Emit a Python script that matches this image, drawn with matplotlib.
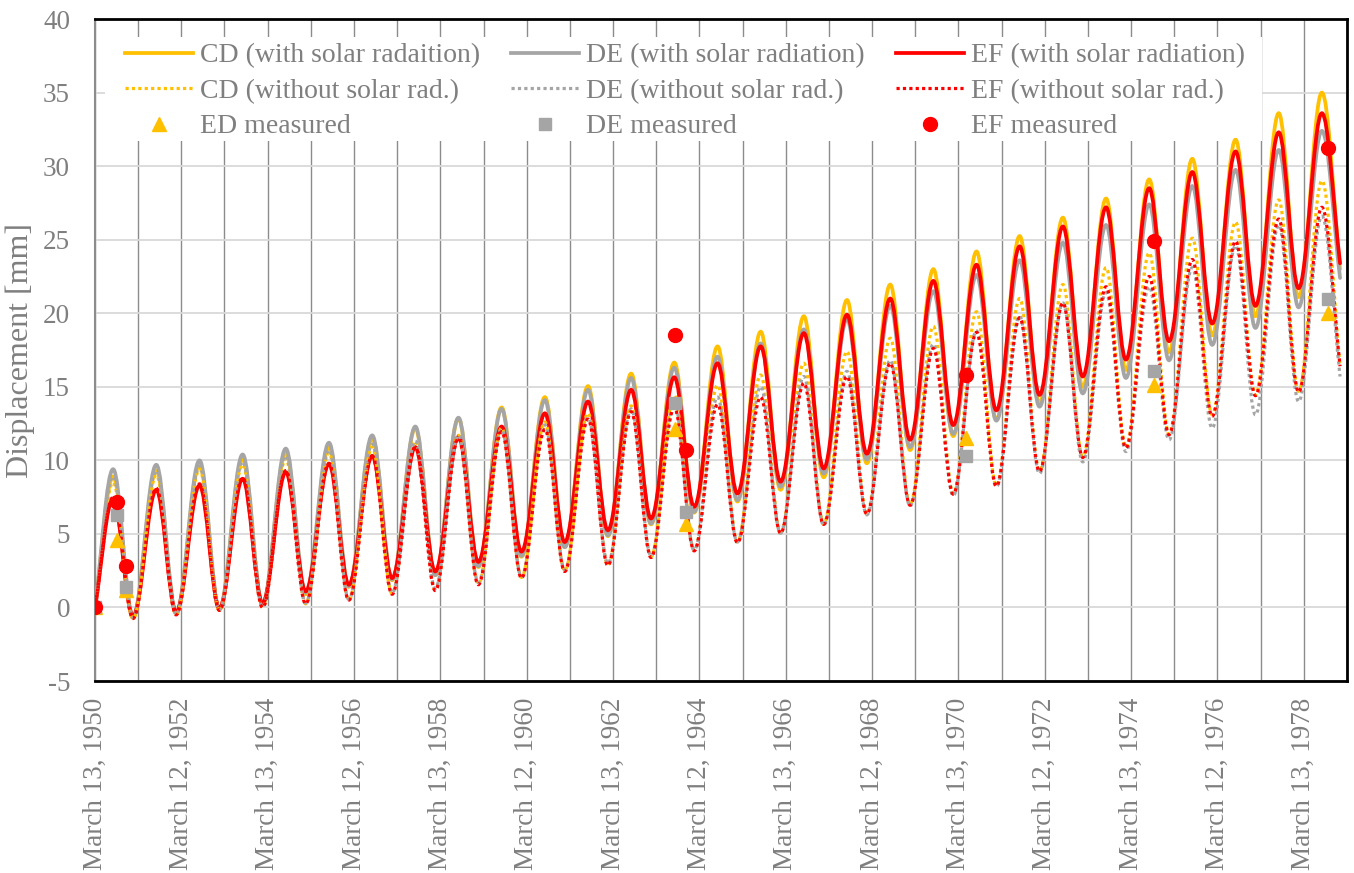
import datetime as dt

import numpy as np
import matplotlib
matplotlib.use("Agg")
import matplotlib.pyplot as plt
import matplotlib.dates as mdates
from matplotlib.path import Path
from matplotlib.patches import PathPatch, Rectangle
from matplotlib.lines import Line2D

plt.rcParams["font.family"] = ["Liberation Serif", "DejaVu Serif"]

# ---- simulated displacement: seasonal extremes (summer peaks / winter troughs) ----
START = "1950-03-13"
END = "1979-01-14"
PEAK_DATES = [f"{y}-08-13" for y in range(1950, 1979)]
TROUGH_DATES = [f"{y}-01-28" for y in range(1951, 1979)]

CD_SOLAR_PEAKS = [8.9, 9.3, 9.7, 10.1, 10.5, 10.9, 11.5, 12.2, 12.85, 13.6, 14.3, 15.05, 15.9, 16.65,
                  17.75, 18.75, 19.8, 20.9, 21.95, 23.0, 24.2, 25.25, 26.5, 27.8, 29.1, 30.5, 31.8,
                  33.6, 35.0]
CD_SOLAR_TROUGHS = [-0.7, -0.4, -0.15, 0.2, 0.9, 1.4, 1.85, 2.2, 2.75, 3.45, 4.1, 4.85, 5.65, 6.45,
                    7.2, 8.0, 8.85, 9.8, 10.7, 11.65, 12.75, 13.9, 15.0, 16.15, 17.35, 18.5, 19.8, 21.1]
CD_SOLAR_END = 23.0

DE_SOLAR_PEAKS = [9.4, 9.7, 10.0, 10.4, 10.8, 11.2, 11.7, 12.3, 12.9, 13.5, 14.1, 14.8, 15.6, 16.3,
                  17.05, 17.95, 18.9, 19.6, 20.5, 21.5, 22.6, 23.6, 24.8, 26.0, 27.4, 28.65, 29.75,
                  31.1, 32.4]
DE_SOLAR_TROUGHS = [-0.6, -0.35, -0.1, 0.25, 1.0, 1.45, 1.9, 2.2, 2.8, 3.5, 4.1, 4.9, 5.7, 6.5,
                    7.3, 8.2, 9.1, 10.05, 10.9, 11.8, 12.7, 13.65, 14.55, 15.6, 16.8, 17.85, 19.0, 20.4]
DE_SOLAR_END = 22.4

EF_SOLAR_PEAKS = [7.4, 8.0, 8.3, 8.75, 9.2, 9.75, 10.3, 10.9, 11.6, 12.3, 13.2, 14.0, 14.8, 15.65,
                  16.6, 17.75, 18.65, 19.9, 21.0, 22.2, 23.3, 24.55, 25.9, 27.2, 28.5, 29.6, 31.0,
                  32.3, 33.6]
EF_SOLAR_TROUGHS = [-0.6, -0.3, -0.05, 0.3, 1.1, 1.55, 2.0, 2.45, 3.1, 3.8, 4.45, 5.25, 6.05, 6.85,
                    7.75, 8.55, 9.45, 10.45, 11.4, 12.4, 13.4, 14.45, 15.7, 16.85, 18.1, 19.3, 20.5, 21.7]
EF_SOLAR_END = 23.4

CD_NOSOLAR_PEAKS = [8.5, 9.0, 9.4, 9.7, 10.1, 10.5, 10.9, 11.3, 11.7, 12.2, 12.6, 13.2, 13.7, 14.4,
                    15.1, 15.8, 16.6, 17.4, 18.3, 19.1, 20.1, 21.0, 21.95, 23.1, 24.1, 25.1, 26.2,
                    27.7, 29.0]
CD_NOSOLAR_TROUGHS = [-0.75, -0.5, -0.2, 0.0, 0.25, 0.5, 0.95, 1.2, 1.6, 2.05, 2.5, 2.9, 3.45, 3.9,
                      4.45, 5.1, 5.7, 6.4, 7.0, 7.75, 8.3, 9.3, 10.25, 10.9, 11.8, 13.1, 14.45, 14.7]
CD_NOSOLAR_END = 16.4

DE_NOSOLAR_PEAKS = [8.9, 9.3, 9.6, 9.9, 10.3, 10.7, 11.1, 11.3, 11.7, 12.1, 12.4, 12.9, 13.5, 13.9,
                    14.3, 15.0, 15.7, 16.05, 16.8, 17.9, 18.8, 19.8, 20.7, 21.4, 21.8, 23.1, 24.6,
                    26.0, 26.6]
DE_NOSOLAR_TROUGHS = [-0.7, -0.45, -0.15, 0.05, 0.3, 0.55, 1.0, 1.3, 1.7, 2.1, 2.55, 3.0, 3.5, 3.9,
                      4.45, 5.05, 5.6, 6.3, 6.9, 7.6, 8.2, 9.1, 9.9, 10.6, 11.4, 12.2, 13.1, 14.0]
DE_NOSOLAR_END = 15.7

EF_NOSOLAR_PEAKS = [7.5, 8.1, 8.4, 8.85, 9.3, 9.8, 10.3, 10.9, 11.5, 11.95, 12.1, 12.8, 13.3, 13.6,
                    13.8, 14.3, 15.25, 15.7, 16.6, 17.6, 18.7, 19.7, 20.7, 21.8, 22.5, 23.65, 24.9,
                    26.4, 27.2]
EF_NOSOLAR_TROUGHS = [-0.75, -0.5, -0.2, 0.0, 0.25, 0.5, 0.9, 1.15, 1.55, 2.0, 2.45, 2.85, 3.4, 3.85,
                      4.4, 5.05, 5.65, 6.35, 6.95, 7.7, 8.25, 9.25, 10.2, 10.85, 11.75, 13.0, 14.4, 14.65]
EF_NOSOLAR_END = 16.4

# ---- field measurements ----
MEAS_DATES = ["1950-03-13", "1950-09-18", "1950-11-30", "1963-08-21", "1963-11-24",
              "1970-05-18", "1974-09-26", "1978-10-07"]
ED_MEASURED = [0.0, 4.6, 1.2, 12.1, 5.7, 11.5, 15.1, 20.0]
DE_MEASURED = [0.0, 6.3, 1.4, 13.9, 6.5, 10.3, 16.1, 21.0]
EF_MEASURED = [0.0, 7.2, 2.8, 18.5, 10.7, 15.8, 24.9, 31.2]

TICK_LABELS = ["March 13, 1950", "March 12, 1952", "March 13, 1954", "March 12, 1956",
               "March 13, 1958", "March 12, 1960", "March 13, 1962", "March 12, 1964",
               "March 13, 1966", "March 12, 1968", "March 13, 1970", "March 12, 1972",
               "March 13, 1974", "March 12, 1976", "March 13, 1978"]

YELLOW = "#FFC000"
GREY = "#A5A5A5"
RED = "#FF0000"
TXT = "#7F7F7F"
FS = 19.5
LEG_FS = 20


def extremes(peaks, troughs, end):
    dates = [START]
    vals = [0.0]
    for i, p in enumerate(peaks):
        dates.append(PEAK_DATES[i])
        vals.append(p)
        if i < len(troughs):
            dates.append(TROUGH_DATES[i])
            vals.append(troughs[i])
    dates.append(END)
    vals.append(end)
    return mdates.datestr2num(dates), np.array(vals)


def smooth_path(x, y, k=0.364):
    # cubic segments with flat tangents at each peak/trough
    verts = [(x[0], y[0])]
    codes = [Path.MOVETO]
    n = len(x)
    for i in range(n - 1):
        dx = x[i + 1] - x[i]
        dy = y[i + 1] - y[i]
        c1 = (x[i] + dx * k, y[i] + dy * k) if i == 0 else (x[i] + dx * k, y[i])
        c2 = (x[i + 1] - dx * k, y[i + 1] - dy * k) if i == n - 2 else (x[i + 1] - dx * k, y[i + 1])
        verts += [c1, c2, (x[i + 1], y[i + 1])]
        codes += [Path.CURVE4] * 3
    return Path(verts, codes)


fig = plt.figure(figsize=(13.54, 8.73), dpi=100)
ax = fig.add_axes([0.0702, 0.2199, 0.9246, 0.7583])

SOLID = dict(lw=2.7, fill=False, capstyle="round", joinstyle="round")
DOTTED = dict(lw=2.3, fill=False, linestyle=(0, (1, 1)), capstyle="butt")

series = [
    (CD_SOLAR_PEAKS, CD_SOLAR_TROUGHS, CD_SOLAR_END, YELLOW, SOLID, 3.0),
    (DE_SOLAR_PEAKS, DE_SOLAR_TROUGHS, DE_SOLAR_END, GREY, SOLID, 3.1),
    (EF_SOLAR_PEAKS, EF_SOLAR_TROUGHS, EF_SOLAR_END, RED, SOLID, 3.2),
    (CD_NOSOLAR_PEAKS, CD_NOSOLAR_TROUGHS, CD_NOSOLAR_END, YELLOW, DOTTED, 3.3),
    (DE_NOSOLAR_PEAKS, DE_NOSOLAR_TROUGHS, DE_NOSOLAR_END, GREY, DOTTED, 3.4),
    (EF_NOSOLAR_PEAKS, EF_NOSOLAR_TROUGHS, EF_NOSOLAR_END, RED, DOTTED, 3.5),
]
for peaks, troughs, end, color, style, z in series:
    xs, ys = extremes(peaks, troughs, end)
    ax.add_patch(PathPatch(smooth_path(xs, ys), edgecolor=color, zorder=z, **style))

mx = mdates.datestr2num(MEAS_DATES)
ax.plot(mx, ED_MEASURED, ls="none", marker="^", ms=10, color=YELLOW, zorder=5)
ax.plot(mx, DE_MEASURED, ls="none", marker="s", ms=8.5, color=GREY, zorder=5.1)
ax.plot(mx, EF_MEASURED, ls="none", marker="o", ms=10, color=RED, zorder=5.2)

# axes, ticks and grid
major = [mdates.date2num(dt.datetime.strptime(s, "%B %d, %Y")) for s in TICK_LABELS]
minor = [m + 365.25 for m in major]
ax.set_xlim(mdates.datestr2num(START), mdates.datestr2num("1979-03-13"))
ax.set_ylim(-5, 40)
ax.set_xticks(major)
ax.set_xticklabels(TICK_LABELS, rotation=90, fontsize=FS, color=TXT)
ax.set_xticks(minor, minor=True)
ax.set_yticks(np.arange(-5, 41, 5))
ax.set_yticklabels([str(v) for v in range(-5, 41, 5)], fontsize=FS, color=TXT)
ax.tick_params(axis="x", which="both", length=0, pad=12)
ax.tick_params(axis="y", length=0, pad=18)
ax.set_axisbelow(True)
ax.grid(axis="y", color="#D9D9D9", lw=1.3)
ax.grid(axis="x", which="both", color="#8C8C8C", lw=1.0)
ax.set_ylabel("Displacement [mm]", fontsize=23, color=TXT, labelpad=6)

for side in ("top", "bottom", "right"):
    ax.spines[side].set_color("black")
    ax.spines[side].set_linewidth(2.0)
ax.spines["left"].set_color("#8C8C8C")
ax.spines["left"].set_linewidth(1.5)

# white panel behind the legend block
ax.add_patch(Rectangle((0.008, 0.8157), 0.924, 0.157, transform=ax.transAxes,
                       facecolor="white", edgecolor="none", zorder=1.5))

legend_cols = [
    [(YELLOW, "solid", None, "CD (with solar radaition)"),
     (YELLOW, "dotted", None, "CD (without solar rad.)"),
     (YELLOW, "none", "^", "ED measured")],
    [(GREY, "solid", None, "DE (with solar radiation)"),
     (GREY, "dotted", None, "DE (without solar rad.)"),
     (GREY, "none", "s", "DE measured")],
    [(RED, "solid", None, "EF (with solar radiation)"),
     (RED, "dotted", None, "EF (without solar rad.)"),
     (RED, "none", "o", "EF measured")],
]
col_x = [125 / 1354, 511 / 1354, 896 / 1354]
for cx, entries in zip(col_x, legend_cols):
    handles = []
    for color, ls, mk, label in entries:
        if mk is not None:
            handles.append(Line2D([0], [0], ls="none", marker=mk, color=color,
                                  ms=10 if mk != "s" else 8.5, label=label))
        elif ls == "solid":
            handles.append(Line2D([0], [0], color=color, lw=2.7, label=label))
        else:
            handles.append(Line2D([0], [0], color=color, lw=2.3, ls=(0, (1, 1)), label=label))
    leg = fig.legend(handles=handles, loc="upper left", bbox_to_anchor=(cx, 1 - 43 / 873),
                     frameon=False, fontsize=LEG_FS, labelcolor=TXT, borderpad=0, borderaxespad=0,
                     handlelength=2.45, handletextpad=0.25, labelspacing=0.36, numpoints=1)
    leg.set_zorder(6)

fig.savefig("out.png", dpi=100, facecolor="white")
